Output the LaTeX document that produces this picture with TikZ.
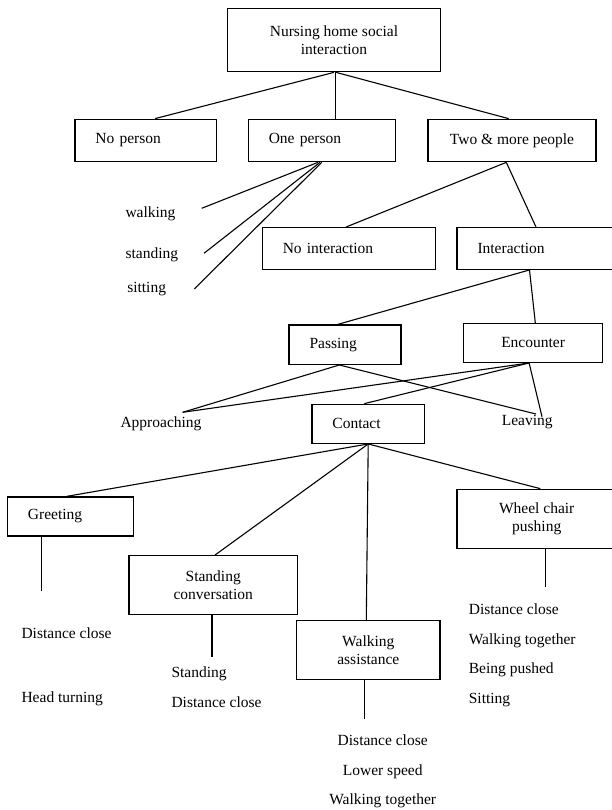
\documentclass[tikz,border=0pt]{standalone}
\usepackage{fontspec}
\setmainfont{Liberation Serif}
\usetikzlibrary{positioning}

\begin{document}
\begin{tikzpicture}[x=1pt, y=-1pt, line width=1.1pt, node distance=14pt,
    font=\fontsize{15.5}{18}\selectfont,
    box/.style={draw, line width=1.3pt, inner ysep=0pt, align=center},
    lbox/.style={box, align=left, inner xsep=20.5pt, text width=#1},
    lbl/.style={inner sep=0pt, text height=11pt, text depth=3.5pt}]
    \useasboundingbox (0,0) rectangle (612,810);

    \node[box, minimum width=212.6pt, minimum height=63.4pt] (top) at (334,40) {Nursing home social\\interaction};
    \node[lbox=100.7pt, minimum height=42.4pt] (nop) at (145.8,140.5) {No person};
    \node[lbox=106pt, minimum height=42.4pt] (onep) at (321.8,140.5) {One person};
    \node[box, minimum width=168pt, minimum height=42.4pt] (two) at (512,140.5) {Two \& more people};
    \node[lbox=132pt, minimum height=41.6pt] (noint) at (348.8,248.5) {No interaction};
    \node[lbox=132pt, minimum height=41.6pt] (inter) at (543.5,248.5) {Interaction};
    \node[lbox=71pt, minimum height=39.3pt] (pass) at (345,344.7) {Passing};
    \node[box, minimum width=139.2pt, minimum height=38.8pt] (enc) at (533.1,342.9) {Encounter};
    \node[lbox=71.5pt, minimum height=39pt] (cont) at (368.2,423.8) {Contact};
    \node[lbox=85pt, minimum height=39pt] (greet) at (70.4,516.5) {Greeting};
    \node[box, minimum width=168.3pt, minimum height=59pt] (stcon) at (213.2,585.2) {Standing\\conversation};
    \node[box, minimum width=143.3pt, minimum height=58.6pt] (wassist) at (368.3,650) {Walking\\assistance};
    \node[box, minimum width=159.4pt, minimum height=59pt] (wheel) at (536.7,518.8) {Wheel chair\\pushing};

    \node[lbl, anchor=west] (lwalking) at (125,214) {walking};
    \node[lbl, anchor=west] (lstanding) at (125,255) {standing};
    \node[lbl, anchor=west] (lsitting) at (126.7,289) {sitting};
    \node[lbl, anchor=west] (lappr) at (120,424) {Approaching};
    \node[lbl, anchor=west] (lleave) at (501.3,422) {Leaving};
    \node[lbl, anchor=west] (gr1) at (21,634.3) {Distance close};
    \node[lbl, anchor=west] (gr2) at (21,698.3) {Head turning};
    \node[lbl, anchor=west] (sc1) at (171,673.3) {Standing};
    \node[lbl, below=14.5pt of sc1.south west, anchor=north west] (sc2) {Distance close};
    \node[lbl] (wa1) at (382.7,741.7) {Distance close};
    \node[lbl, below=of wa1] (wa2) {Lower speed};
    \node[lbl, below=of wa2] (wa3) {Walking together};
    \node[lbl, anchor=west] (wc1) at (468.3,611) {Distance close};
    \node[lbl, below=of wc1.south west, anchor=north west] (wc2) {Walking together};
    \node[lbl, below=of wc2.south west, anchor=north west] (wc3) {Being pushed};
    \node[lbl, below=of wc3.south west, anchor=north west] (wc4) {Sitting};

    \coordinate (wlk-e) at (201.7,208.3);
    \coordinate (std-e) at (204,253.3);
    \coordinate (sit-e) at (194.3,289);
    \coordinate (appr-e) at (182.7,412.3);
    \coordinate (leave-a) at (536,414);
    \coordinate (leave-b) at (542,416.7);
    \coordinate (greet-e) at (41.7,590.7);
    \coordinate (stcon-e) at (212,657.3);
    \coordinate (wassist-e) at (364.3,719);
    \coordinate (wheel-e) at (545.3,587.3);

    \draw (top.south) -- ([xshift=9.2pt]nop.north);
    \draw ([xshift=1.3pt]top.south) -- ([xshift=13.5pt]onep.north);
    \draw ([xshift=2pt]top.south) -- ([xshift=-3.3pt]two.north);
    \draw ([xshift=-3.8pt]onep.south) -- (wlk-e);
    \draw ([xshift=-1.8pt]onep.south) -- (std-e);
    \draw (onep.south) -- (sit-e);
    \draw ([xshift=-5.7pt]two.south) -- ([xshift=-2.8pt]noint.north);
    \draw ([xshift=-5.7pt]two.south) -- ([xshift=-7.5pt]inter.north);
    \draw ([xshift=-14pt]inter.south) -- ([xshift=-7.3pt]pass.north);
    \draw ([xshift=-14pt]inter.south) -- ([xshift=2.2pt]enc.north);
    \draw ([xshift=-5.7pt]pass.south) -- (appr-e);
    \draw ([xshift=-5.7pt]pass.south) -- (leave-a);
    \draw ([xshift=-4pt]enc.south) -- (appr-e);
    \draw ([xshift=-4pt]enc.south) -- ([xshift=-3.9pt]cont.north);
    \draw ([xshift=-4pt]enc.south) -- (leave-b);
    \draw (cont.south) -- ([xshift=-3.7pt]greet.north);
    \draw (cont.south) -- ([xshift=1.8pt]stcon.north);
    \draw (cont.south) -- ([xshift=-2pt]wassist.north);
    \draw (cont.south) -- ([xshift=3.6pt]wheel.north);
    \draw ([xshift=-28.7pt]greet.south) -- (greet-e);
    \draw ([xshift=-1.2pt]stcon.south) -- (stcon-e);
    \draw ([xshift=-4pt]wassist.south) -- (wassist-e);
    \draw ([xshift=8.6pt]wheel.south) -- (wheel-e);
\end{tikzpicture}
\end{document}
